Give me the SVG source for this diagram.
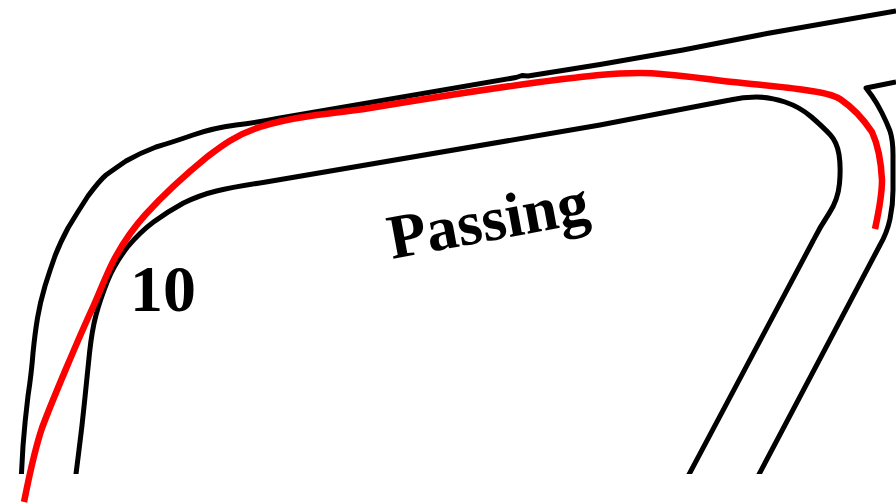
<svg xmlns="http://www.w3.org/2000/svg" width="896" height="504" viewBox="0 0 896 504">
<style>
.road{fill:none;stroke:#000;stroke-width:5;stroke-linejoin:round}
.route{fill:none;stroke:#f00;stroke-width:6.5}
.lbl{font-family:"Liberation Serif","Times New Roman",serif;font-weight:bold;fill:#000}
</style>
<defs><clipPath id="cut"><rect x="0" y="0" width="896" height="474"/></clipPath></defs>
<rect width="896" height="504" fill="#fff"/>
<g id="roads" clip-path="url(#cut)">
<path class="road" d="M21,482 L23,446 Q25,420 28,396 Q31.5,373 33,353 Q35,333 37.5,318 Q40,303 45,286 Q50,270 55,256 Q60,243 68,228 Q77,213 88,196 Q100,180 106,175 Q113,170 126,161 Q140,153 156,147 Q173,142 193,135 Q213,128 236,125 Q260,122 280,118 L516,77.5 L522,75.5 L528,76 L600,64.5 L683,50 L767,33.5 L896,11"/>
<path class="road" d="M75,482 L79,450 Q82,427 84.5,402 Q87,377 89.5,353 Q92,330 96,315 Q100,300 107.5,281 Q115,263 127.5,247 Q140,232 153.5,222 Q167,212 183.5,203 Q200,195 216.5,191 Q233,187 266,182 L600,125 L683,109 L730,100 Q743,97 756.5,97 Q770,97 785,102 Q800,107 811.5,117 Q823,127 830,134.5 Q837,142 839,154.5 Q841,167 839.5,183.5 Q838,200 829,213.5 Q820,227 813,241 L685,482"/>
<path class="road" d="M896,82 L866,88 L872,96 Q877,103 882,113 Q887,123 890,131 Q893,140 893,155 L893,190 Q893,205 890,219 Q887,233 880,245 L755,482"/>
</g>
<g id="route">
<path class="route" d="M24,502 C28,483 33,455 42,428 C52,401 80,335 93,307 C101,289 108,270 116,256 C125,240 135,226 146,214 C165,193 185,175 207,157 C220,147 235,135 260,127 C275,122 290,119 310,116 C330,113 345,112 370,108 C430,98 480,90 540,82 C580,77 610,73 640,73 C665,73 690,77 733,82 C760,85 785,87 805,90 C820,92 832,94 840,99 C852,107 864,120 872,132 C878,145 881,160 882,180 C882,197 878,215 875,229"/>
</g>
<g id="label-passing"><text class="lbl" x="392" y="259" font-size="63" transform="rotate(-10.5 392 259)">Passing</text></g>
<g id="label-10"><text class="lbl" x="130" y="311" font-size="66">10</text></g>
</svg>
